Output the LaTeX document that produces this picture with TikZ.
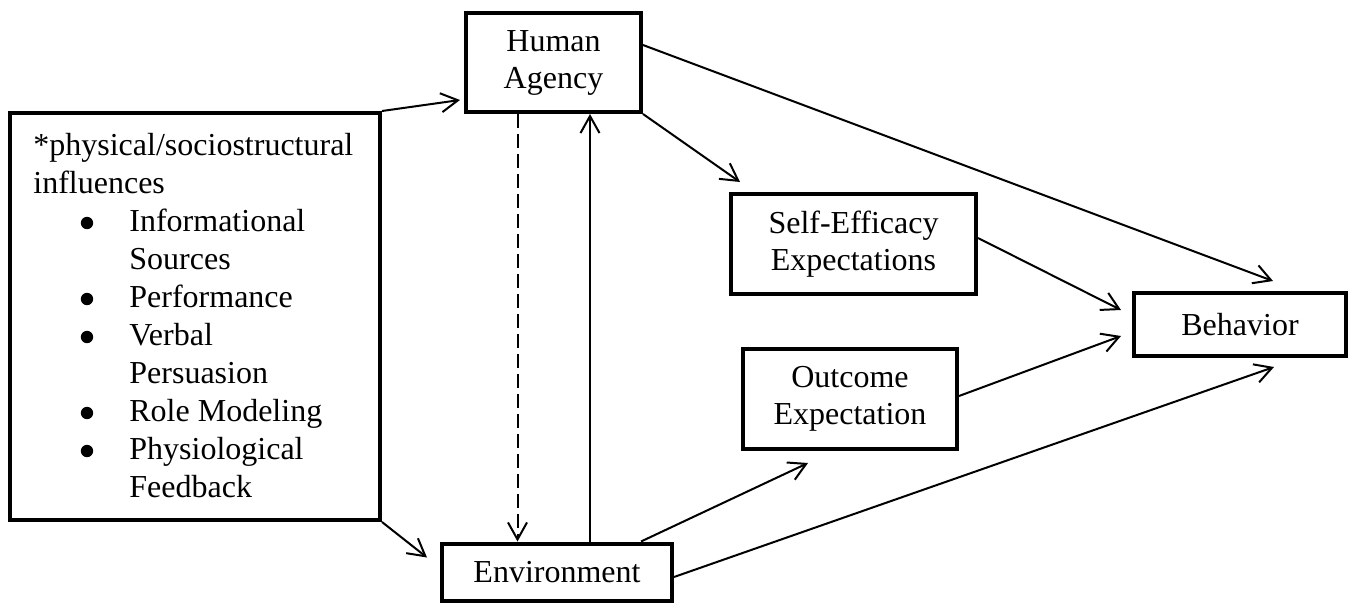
\documentclass[tikz,border=0pt]{standalone}
\usepackage{fontspec}
\setmainfont{Liberation Serif}
\usetikzlibrary{arrows.meta}
\begin{document}
\begin{tikzpicture}[x=0.5pt,y=-0.5pt,
  font=\fontsize{16}{18.5}\selectfont,
  box/.style={draw, line width=2pt, align=center, inner sep=0pt},
  arr/.style={line width=1pt, -{Straight Barb[length=8.5pt,width=9.5pt,line width=1pt]}},
  dashline/.style={dash pattern=on 7pt off 3pt}]
\useasboundingbox (0,0) rectangle (1349,606);

% boxes
\node[box, minimum width=370*0.5pt, minimum height=407*0.5pt] (infl) at (195,316.5) {};
\node[anchor=base west, inner sep=0pt, font=\fontsize{16}{19}\selectfont] (infltext) at (33,155) {%
  \begin{tabular}[t]{@{}p{48pt}@{}l@{}}
  \multicolumn{2}{@{}l@{}}{*physical/sociostructural}\\
  \multicolumn{2}{@{}l@{}}{influences}\\
  & Informational\\
  & Sources\\
  & Performance\\
  & Verbal\\
  & Persuasion\\
  & Role Modeling\\
  & Physiological\\
  & Feedback
  \end{tabular}};
% list bullets, one per item
\foreach \k in {2,4,5,7,8}
  \fill ([shift={(54,38*\k-8)}]infltext.base west) circle (3.1pt);

\node[box, minimum width=175*0.5pt, minimum height=99*0.5pt] (ha) at (553.5,62.5) {Human\\Agency};
\node[box, minimum width=230*0.5pt, minimum height=57*0.5pt] (env) at (557,572) {Environment};
\node[box, minimum width=245*0.5pt, minimum height=100*0.5pt] (se) at (853.5,244) {Self-Efficacy\\Expectations};
\node[box, minimum width=214*0.5pt, minimum height=100*0.5pt] (oe) at (850,399) {Outcome\\Expectation};
\node[box, minimum width=212*0.5pt, minimum height=63*0.5pt] (beh) at (1240,324.5) {Behavior};

% connectors
\draw[arr] (infl.north east) -- ([shift={(-4,-14)}]ha.south west);
\draw[arr] (infl.south east) -- ([shift={(-13,16)}]env.north west);
\draw[arr, dashline] ([shift={(-36,0)}]ha.south) coordinate (d1) -- (d1 |- env.north);
\draw[arr] ([shift={(33,0)}]env.north) coordinate (u1) -- (u1 |- ha.south);
\draw[arr] (ha.south east) -- ([shift={(11,-10)}]se.north west);
\draw[arr] ([shift={(0,-17.5)}]ha.east) -- ([shift={(141,-10)}]beh.north west);
\draw[arr] ([shift={(0,-6)}]se.east) -- ([shift={(-11,-14.5)}]beh.west);
\draw[arr] ([shift={(0,-3)}]oe.east) -- ([shift={(-11,11.5)}]beh.west);
\draw[arr] ([shift={(84,0)}]env.north) -- ([shift={(-42,12)}]oe.south);
\draw[arr] ([shift={(0,5)}]env.east) -- ([shift={(34,9)}]beh.south);
\end{tikzpicture}
\end{document}
